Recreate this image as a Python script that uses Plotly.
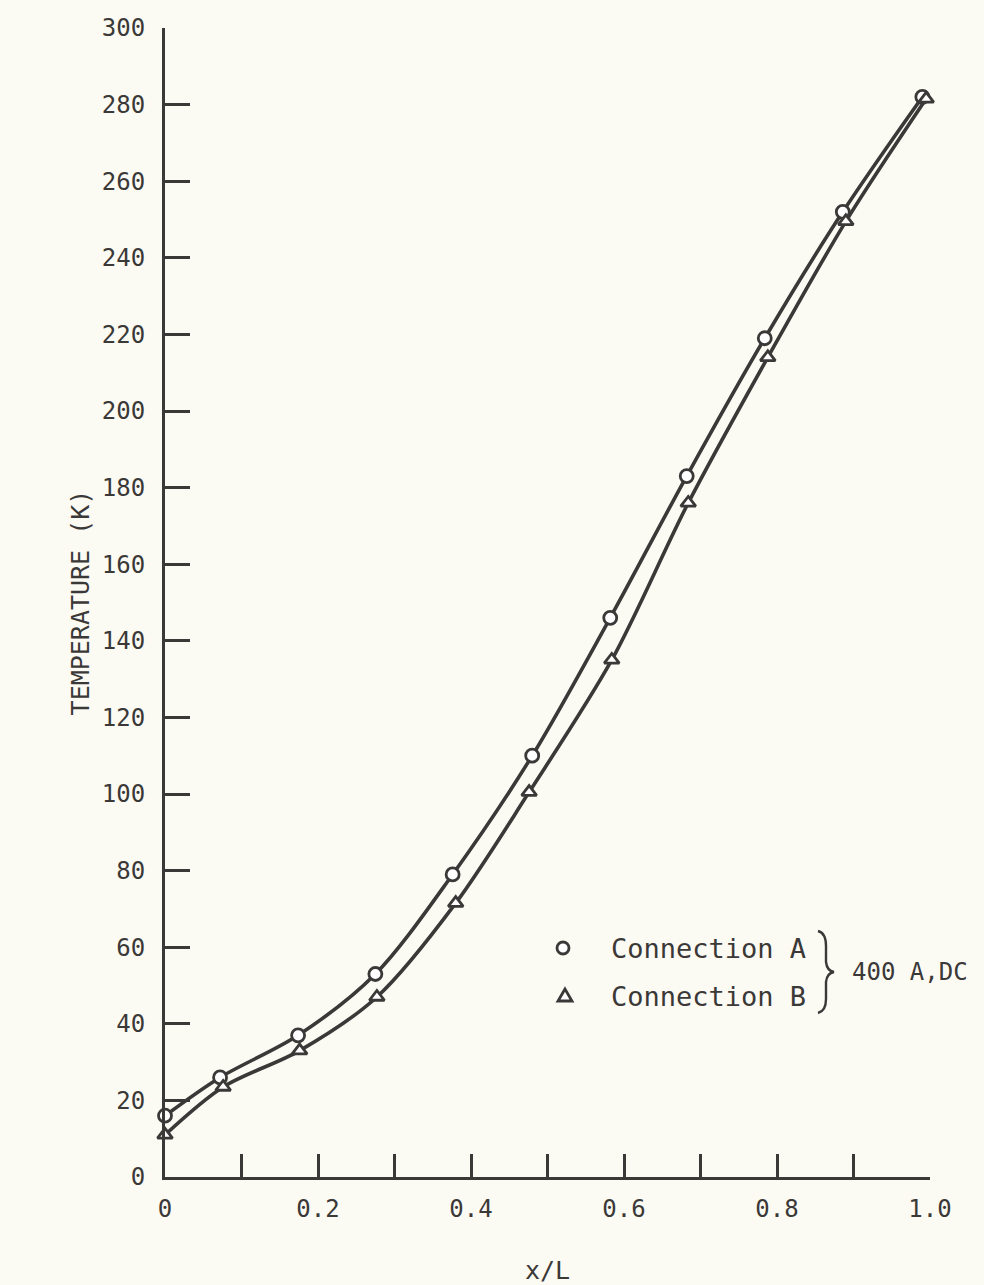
import plotly.graph_objects as go

# ---- data ----
x_a = [0.0, 0.072, 0.174, 0.275, 0.376, 0.480, 0.582, 0.682, 0.784, 0.886, 0.990]
t_a = [16, 26, 37, 53, 79, 110, 146, 183, 219, 252, 282]
x_b = [0.0, 0.076, 0.176, 0.277, 0.380, 0.476, 0.584, 0.684, 0.788, 0.890, 0.995]
t_b = [11, 23.5, 33, 47, 71.5, 100.5, 135, 176, 214, 249.5, 281.5]

x_ticks = [0.0, 0.1, 0.2, 0.3, 0.4, 0.5, 0.6, 0.7, 0.8, 0.9, 1.0]
x_ticktext = ["0", "", "0.2", "", "0.4", "", "0.6", "", "0.8", "", "1.0"]
y_ticks = list(range(0, 301, 20))

label_a = "Connection A"
label_b = "Connection B"
group_label = "400 A,DC"

INK = "#3b3838"
BG = "#fbfbf3"
FONT = "DejaVu Sans Mono"

W, H = 984, 1285
L, R, T, B = 165, 54, 28, 108


def px(xp, yp):
    """pixel -> paper coordinates (for decorations only)"""
    return (xp - L) / (W - L - R), (H - B - yp) / (H - T - B)


fig = go.Figure()
for xs, ts in [(x_a, t_a), (x_b, t_b)]:
    fig.add_trace(go.Scatter(
        x=xs, y=ts, mode="lines",
        line=dict(color=INK, width=3.6, shape="spline", smoothing=0.9),
        cliponaxis=False, showlegend=False, hoverinfo="skip"))
for xs, ts, sym, name in [(x_a, t_a, "circle", label_a), (x_b, t_b, "triangle-up", label_b)]:
    fig.add_trace(go.Scatter(
        x=xs, y=ts, mode="markers", name=name,
        marker=dict(symbol=sym, size=13, color="white",
                    line=dict(color=INK, width=2.8)),
        cliponaxis=False, showlegend=False))

# legend drawn as decorations
shapes = []
r0x, r0y = px(557, 942)
r1x, r1y = px(569, 954)
shapes.append(dict(type="circle", xref="paper", yref="paper",
                   x0=r0x, y0=r1y, x1=r1x, y1=r0y,
                   line=dict(color=INK, width=2.8), fillcolor="white"))
p1 = px(565, 989); p2 = px(558, 1001); p3 = px(572, 1001)
shapes.append(dict(type="path", xref="paper", yref="paper",
                   path=f"M {p1[0]},{p1[1]} L {p2[0]},{p2[1]} L {p3[0]},{p3[1]} Z",
                   line=dict(color=INK, width=2.8), fillcolor="white"))

# brace
pts = [(818, 931), (826, 933), (826, 946), (826, 962), (827, 971), (834, 972),
       (827, 973), (826, 982), (826, 999), (826, 1011), (818, 1013)]
pp = [px(*p) for p in pts]
path = (f"M {pp[0][0]},{pp[0][1]} Q {pp[1][0]},{pp[1][1]} {pp[2][0]},{pp[2][1]} "
        f"L {pp[3][0]},{pp[3][1]} Q {pp[4][0]},{pp[4][1]} {pp[5][0]},{pp[5][1]} "
        f"Q {pp[6][0]},{pp[6][1]} {pp[7][0]},{pp[7][1]} "
        f"L {pp[8][0]},{pp[8][1]} Q {pp[9][0]},{pp[9][1]} {pp[10][0]},{pp[10][1]}")
shapes.append(dict(type="path", xref="paper", yref="paper", path=path,
                   line=dict(color=INK, width=2.4)))

annotations = []
for lbl, yp in [(label_a, 948), (label_b, 996)]:
    ax, ay = px(609, yp)
    annotations.append(dict(text=lbl, x=ax, y=ay, xref="paper", yref="paper",
                            xanchor="left", yanchor="middle", showarrow=False,
                            font=dict(family=FONT, size=27, color=INK)))
gx, gy = px(850, 972)
annotations.append(dict(text=group_label, x=gx, y=gy, xref="paper", yref="paper",
                        xanchor="left", yanchor="middle", showarrow=False,
                        font=dict(family=FONT, size=24, color=INK)))

fig.update_layout(
    width=W, height=H,
    margin=dict(l=L, r=R, t=T, b=B, autoexpand=False),
    paper_bgcolor=BG, plot_bgcolor=BG,
    shapes=shapes, annotations=annotations,
    font=dict(family=FONT, color=INK),
)
fig.update_xaxes(
    range=[0, 1.0], tickvals=x_ticks, ticktext=x_ticktext,
    ticks="inside", ticklen=23, tickwidth=2.6, tickcolor=INK,
    showline=True, linewidth=3, linecolor=INK, mirror=False,
    showgrid=False, zeroline=False,
    tickfont=dict(family=FONT, size=24, color=INK), ticklabelstandoff=8,
    title=dict(text="x/L", font=dict(family=FONT, size=25, color=INK), standoff=40),
)
fig.update_yaxes(
    range=[0, 300], tickvals=y_ticks,
    ticks="inside", ticklen=25, tickwidth=2.6, tickcolor=INK,
    showline=True, linewidth=3, linecolor=INK, mirror=False,
    showgrid=False, zeroline=False,
    tickfont=dict(family=FONT, size=24, color=INK), ticklabelstandoff=12,
    title=dict(text="TEMPERATURE (K)", font=dict(family=FONT, size=25, color=INK), standoff=6),
)

fig.write_html(
    "out.html",
    config={"displayModeBar": False},
    post_script=("document.body.style.margin='0';"
                 "document.body.style.background='" + BG + "';"
                 "document.documentElement.style.overflow='hidden';"),
)
